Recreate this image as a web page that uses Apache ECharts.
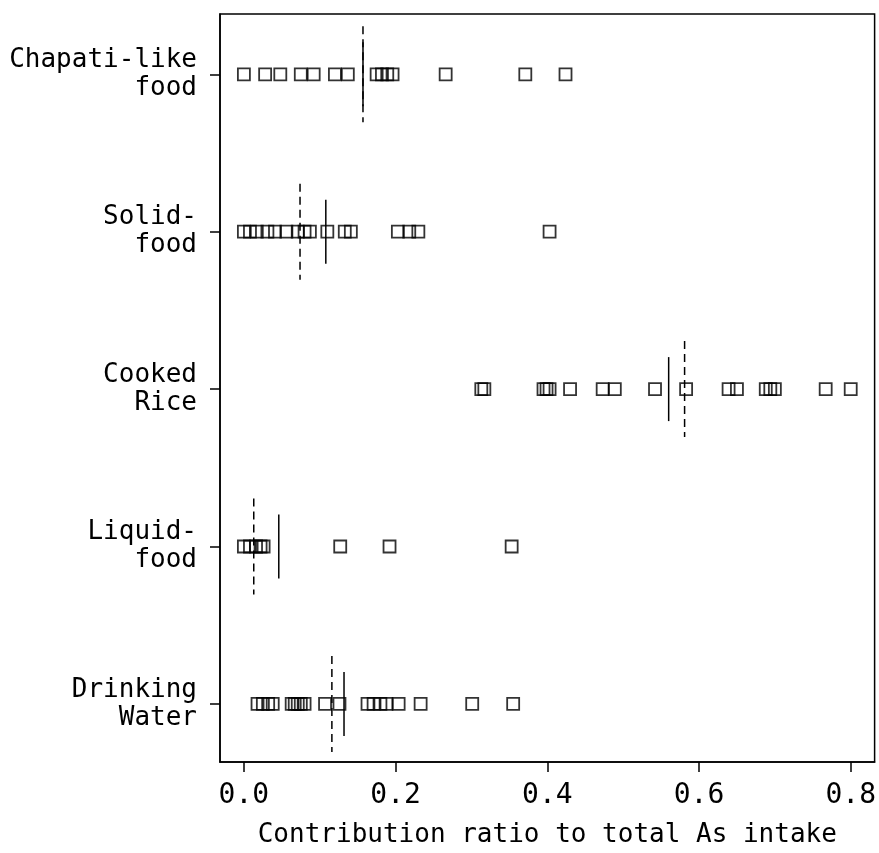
<!DOCTYPE html>
<html>
<head>
<meta charset="utf-8">
<script src="https://cdn.jsdelivr.net/npm/echarts@6/dist/echarts.min.js"></script>
<style>
  html, body { margin: 0; padding: 0; background: #fff; }
  #chart { width: 879px; height: 853px; }
</style>
</head>
<body>
<div id="chart"></div>
<script>
// Food groups, listed top to bottom
const categories = ['Chapati-like\nfood', 'Solid-\nfood', 'Cooked\nRice', 'Liquid-\nfood', 'Drinking\nWater'];

// Contribution ratio of each food group to total As intake, one value per household
const chapatiLike = [0.000, 0.028, 0.048, 0.075, 0.092, 0.120, 0.137, 0.175, 0.182, 0.189, 0.196, 0.266, 0.371, 0.424];
const solidFood = [0.000, 0.008, 0.017, 0.031, 0.041, 0.056, 0.071, 0.080, 0.087, 0.110, 0.133, 0.141, 0.203, 0.218, 0.230, 0.403];
const cookedRice = [0.313, 0.317, 0.395, 0.399, 0.403, 0.430, 0.473, 0.489, 0.542, 0.583, 0.639, 0.650, 0.688, 0.694, 0.700, 0.767, 0.800];
const liquidFood = [0.000, 0.008, 0.016, 0.022, 0.026, 0.127, 0.192, 0.353];
const drinkingWater = [0.018, 0.025, 0.032, 0.038, 0.063, 0.067, 0.071, 0.075, 0.080, 0.107, 0.126, 0.163, 0.171, 0.180, 0.188, 0.204, 0.233, 0.301, 0.355];

// Summary lines per group: median (dashed) and mean (solid)
const medians = [0.157, 0.074, 0.581, 0.013, 0.116];
const means = [0.157, 0.108, 0.560, 0.046, 0.132];

// Axis ticks
const xTicks = [0.0, 0.2, 0.4, 0.6, 0.8];

const groups = [chapatiLike, solidFood, cookedRice, liquidFood, drinkingWater];
const n = categories.length;
const rowOf = i => n - i; // first category sits at the top
const rowTicks = categories.map((c, i) => rowOf(i));

const points = [];
groups.forEach((vals, i) => vals.forEach(v => points.push([v, rowOf(i)])));

const medianData = medians.map((v, i) => [v, rowOf(i)]);
const meanData = means.map((v, i) => [v, rowOf(i)]);

const FONT = '"DejaVu Sans Mono", "Liberation Mono", monospace';

function verticalSegment(halfHeight, dash) {
  return function (params, api) {
    const p = api.coord([api.value(0), api.value(1)]);
    return {
      type: 'line',
      shape: { x1: p[0], y1: p[1] - halfHeight, x2: p[0], y2: p[1] + halfHeight },
      style: { stroke: '#000', lineWidth: 1.5, lineDash: dash }
    };
  };
}

const chart = echarts.init(document.getElementById('chart'), null, { renderer: 'canvas' });
chart.setOption({
  animation: false,
  backgroundColor: '#fff',
  grid: {
    left: 220, right: 2, top: 14, bottom: 88,
    show: true, borderColor: '#000', borderWidth: 1.5, backgroundColor: 'transparent'
  },
  xAxis: {
    type: 'value',
    min: -0.0315,
    max: 0.8315,
    name: 'Contribution ratio to total As intake',
    nameLocation: 'middle',
    nameGap: 60,
    nameTextStyle: { fontFamily: FONT, fontSize: 26, color: '#000' },
    axisLine: { show: true, onZero: false, lineStyle: { color: '#000', width: 1.5 } },
    axisTick: { show: true, length: 10, customValues: xTicks, lineStyle: { color: '#000', width: 1.5 } },
    axisLabel: {
      customValues: xTicks,
      formatter: v => v.toFixed(1),
      fontFamily: FONT, fontSize: 28, color: '#000', margin: 20
    },
    splitLine: { show: false }
  },
  yAxis: {
    type: 'value',
    min: 0.631,
    max: 5.383,
    axisLine: { show: true, onZero: false, lineStyle: { color: '#000', width: 1.5 } },
    axisTick: {
      show: true, length: 10,
      customValues: rowTicks,
      lineStyle: { color: '#000', width: 1.5 }
    },
    axisLabel: {
      customValues: rowTicks,
      formatter: v => categories[n - Math.round(v)],
      fontFamily: FONT, fontSize: 26, lineHeight: 28, color: '#000', margin: 23, align: 'right'
    },
    splitLine: { show: false }
  },
  series: [
    {
      type: 'scatter',
      data: points,
      symbol: 'rect',
      symbolSize: 12,
      itemStyle: { color: 'rgba(255,255,255,0)', borderColor: '#000', borderWidth: 1.8 },
      z: 3
    },
    {
      type: 'custom',
      data: medianData,
      renderItem: verticalSegment(48, [8, 5]),
      z: 4
    },
    {
      type: 'custom',
      data: meanData,
      renderItem: verticalSegment(32, null),
      z: 4
    }
  ]
});
</script>
</body>
</html>
